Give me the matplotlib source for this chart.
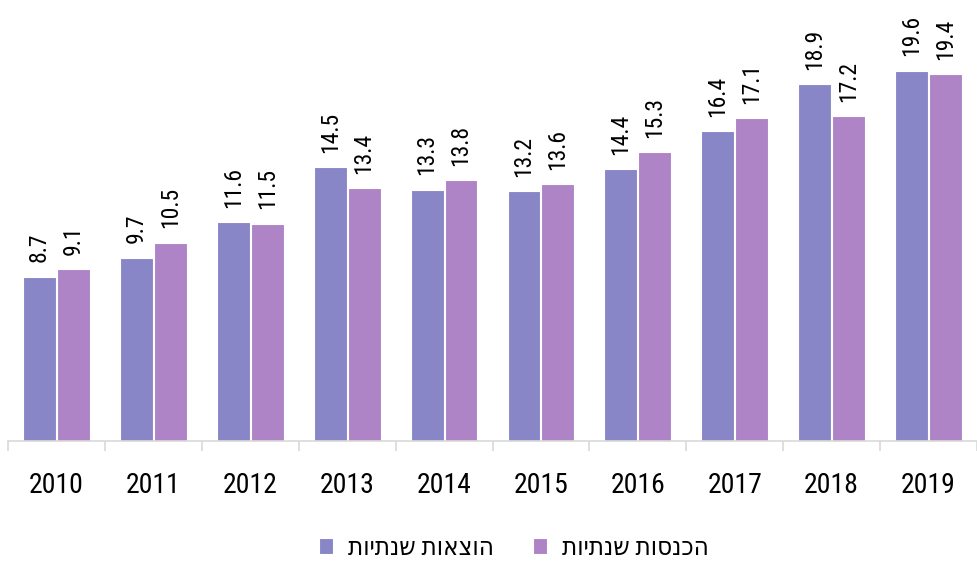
import matplotlib.pyplot as plt
import numpy as np

years = ['2010', '2011', '2012', '2013', '2014', '2015', '2016', '2017', '2018', '2019']
expenses = [8.7, 9.7, 11.6, 14.5, 13.3, 13.2, 14.4, 16.4, 18.9, 19.6]
income = [9.1, 10.5, 11.5, 13.4, 13.8, 13.6, 15.3, 17.1, 17.2, 19.4]
series_names = ['הוצאות שנתיות', 'הכנסות שנתיות']

colBlue = '#8886C7'
colPurple = '#AE84C6'
plt.rcParams['font.family'] = ['Roboto Condensed', 'Liberation Sans Narrow', 'DejaVu Sans']
plt.rcParams['font.stretch'] = 'condensed'

fig = plt.figure(figsize=(9.77, 5.61), dpi=100)
ax = fig.add_axes([8/977, 1 - 441/561, 969/977, 441/561])

x = np.arange(len(years))
w = 0.34
b1 = ax.bar(x - 0.175, expenses, w, color=colBlue, edgecolor='white', linewidth=0.8,
            label=series_names[0][::-1])
b2 = ax.bar(x + 0.175, income, w, color=colPurple, edgecolor='white', linewidth=0.8,
            label=series_names[1][::-1])

# label nilai di atas batang (diputar)
for bars in (b1, b2):
    for r in bars:
        ax.text(r.get_x() + r.get_width()/2, r.get_height() + 0.75, f"{r.get_height():.1f}",
                rotation=90, ha='center', va='bottom', fontsize=17)

ax.set_xlim(-0.5, 9.39)
ax.set_ylim(0, 23.33)
ax.set_yticks([])
for s in ['top', 'right', 'left']:
    ax.spines[s].set_visible(False)
ax.spines['bottom'].set_color('#d9d9d9')
ax.spines['bottom'].set_linewidth(1.2)

ax.set_xticks(x)
ax.set_xticklabels(years, fontsize=20)
ax.tick_params(axis='x', which='major', length=0, pad=22)
ax.set_xticks(np.arange(-0.5, 10, 1), minor=True)
ax.tick_params(axis='x', which='minor', length=7, color='#d9d9d9', width=1.2)

ax.legend(loc='center', bbox_to_anchor=(506/969, -107/441), ncol=2, frameon=False,
          fontsize=18.5, handlelength=0.55, handleheight=0.55, columnspacing=1.5, handletextpad=0.6)

plt.savefig('out.png', dpi=100)
